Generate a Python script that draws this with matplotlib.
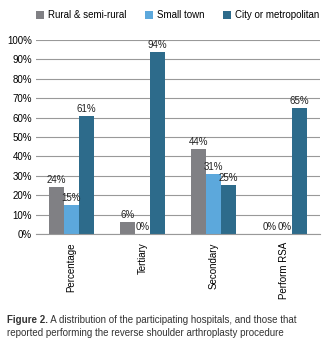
import matplotlib.pyplot as plt
import numpy as np

plt.rcParams['font.family'] = ['Liberation Sans', 'DejaVu Sans']

categories = ['Percentage', 'Tertiary', 'Secondary', 'Perform RSA']
rural = [24, 6, 44, 0]
small_town = [15, 0, 31, 0]
city = [61, 94, 25, 65]
series_names = ['Rural & semi-rural', 'Small town', 'City or metropolitan']
colors = ['#808084', '#5ca8dc', '#2d6b8b']

fig = plt.figure(figsize=(3.34, 3.45), dpi=100)
ax = fig.add_axes([0.108, 0.322, 0.85, 0.562])

x = np.arange(len(categories))
w = 0.21
for i, (vals, name, c) in enumerate(zip([rural, small_town, city], series_names, colors)):
    pos = x + (i - 1) * w
    ax.bar(pos, vals, width=w, color=c, label=name, zorder=2)
    for p, v in zip(pos, vals):
        ax.text(p, v + 1.0, f'{v}%', ha='center', va='bottom', fontsize=7, color='#222222', zorder=3)

ax.set_ylim(0, 100)
ax.set_xlim(-0.5, len(categories) - 0.5)
ax.set_yticks(range(0, 101, 10))
ax.set_yticklabels([f'{t}%' for t in range(0, 101, 10)], fontsize=7)
ax.yaxis.grid(True, color='#999999', linewidth=0.8, zorder=0)
ax.set_xticks(x)
ax.set_xticklabels(categories, rotation=90, fontsize=7)
ax.tick_params(axis='y', length=0, pad=3)
ax.tick_params(axis='x', length=0, pad=6)
for s in ['top', 'right', 'left']:
    ax.spines[s].set_visible(False)
ax.spines['bottom'].set_color('#999999')

ax.legend(loc='center left', bbox_to_anchor=(0.0, 1.128), ncol=3, frameon=False, fontsize=7,
          handlelength=0.85, handleheight=0.85, handletextpad=0.4, columnspacing=1.9, borderaxespad=0,
          borderpad=0)

cap1 = fig.text(0.022, 0.065, 'Figure 2.', fontsize=7, fontweight='bold', color='#333333')
fig.text(0, 0, ' A distribution of the participating hospitals, and those that',
         fontsize=7, color='#333333')
fig.canvas.draw()
bb = cap1.get_window_extent()
fig.texts[-1].set_position((bb.x1 / fig.bbox.width, 0.065))
fig.text(0.022, 0.027, 'reported performing the reverse shoulder arthroplasty procedure',
         fontsize=7, color='#333333')

fig.savefig('out.png', dpi=100)
